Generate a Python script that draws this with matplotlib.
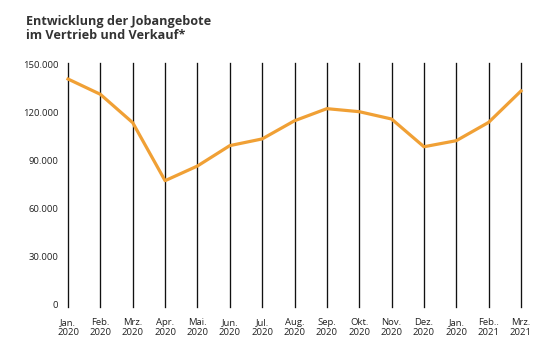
import matplotlib
matplotlib.use("Agg")
import matplotlib.pyplot as plt

months = ["Jan.\n2020", "Feb.\n2020", "Mrz.\n2020", "Apr.\n2020", "Mai.\n2020", "Jun.\n2020",
          "Jul.\n2020", "Aug.\n2020", "Sep.\n2020", "Okt.\n2020", "Nov.\n2020", "Dez.\n2020",
          "Jan.\n2020", "Feb..\n2021", "Mrz.\n2021"]
values = [141200, 131600, 113800, 77400, 86600, 99400, 103600, 115000,
          122600, 120700, 116100, 98700, 102500, 114000, 133700]
yticks = [0, 30000, 60000, 90000, 120000, 150000]
ylabels = ["0", "30.000", "60.000", "90.000", "120.000", "150.000"]

plt.rcParams['font.family'] = ['Open Sans', 'DejaVu Sans']

W, H = 559, 357
fig = plt.figure(figsize=(W / 100, H / 100), dpi=100)
ax = fig.add_axes([68 / W, 1 - 307.2 / H, (521 - 68) / W, (307.2 - 63.4) / H])

x = list(range(len(months)))
ax.set_xlim(0, len(months) - 1)
ax.set_ylim(-2000, 151000)
for xi in x:
    ax.axvline(xi, color="#111111", lw=0.95, zorder=1, clip_on=False)
ax.plot(x, values, color="#F0A035", lw=2.3, zorder=3, clip_on=False)

ax.set_xticks(x)
ax.set_xticklabels(months, fontsize=6.8, color="#222222", linespacing=1.05)
ax.set_yticks(yticks)
ax.set_yticklabels(ylabels, fontsize=6.8, color="#222222")
ax.tick_params(axis="both", length=0)
ax.tick_params(axis="x", pad=8)
ax.tick_params(axis="y", pad=7)
for s in ax.spines.values():
    s.set_visible(False)

fig.text(26 / W, 1 - 15 / H, "Entwicklung der Jobangebote\nim Vertrieb und Verkauf*",
         ha="left", va="top", fontsize=9.1, fontweight="bold", color="#333333",
         linespacing=1.1)

fig.savefig("out.png", dpi=100, facecolor="white")
